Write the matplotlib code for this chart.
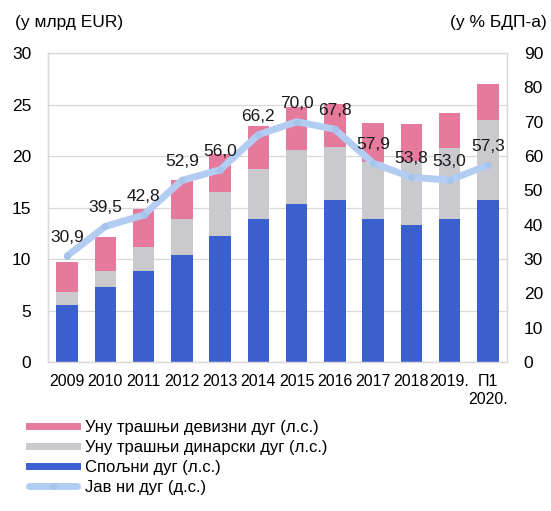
import matplotlib
matplotlib.use('Agg')
import matplotlib.pyplot as plt
import matplotlib.lines as mlines
import numpy as np

plt.rcParams['font.family'] = ['Liberation Sans', 'DejaVu Sans']

years = ['2009', '2010', '2011', '2012', '2013', '2014', '2015', '2016', '2017', '2018', '2019.', 'П1\n2020.']
# stacked levels (bn EUR)
external = [5.55, 7.3, 8.85, 10.4, 12.2, 13.9, 15.3, 15.7, 13.9, 13.3, 13.9, 15.7]
dinar_top = [6.8, 8.85, 11.2, 13.9, 16.5, 18.7, 20.6, 20.9, 19.4, 19.5, 20.8, 23.5]
fx_top = [9.7, 12.1, 14.9, 17.7, 20.2, 22.9, 24.8, 25.1, 23.2, 23.1, 24.2, 27.0]
public_debt = [30.9, 39.5, 42.8, 52.9, 56.0, 66.2, 70.0, 67.8, 57.9, 53.8, 53.0, 57.3]

dinar = np.array(dinar_top) - np.array(external)
fx = np.array(fx_top) - np.array(dinar_top)

c_pink = '#e57a9c'
c_gray = '#cacace'
c_blue = '#3c5fd0'
c_line = '#b3cdf2'

fig = plt.figure(figsize=(5.51, 5.11), dpi=100)
ax = fig.add_axes([0.0871, 0.2916, 0.8330, 0.6046])
ax2 = ax.twinx()

x = np.arange(len(years))
w = 0.56
ax.bar(x, external, w, color=c_blue, label='Спољни дуг (л.с.)', zorder=2)
ax.bar(x, dinar, w, bottom=external, color=c_gray, label='Уну трашњи динарски дуг (л.с.)', zorder=2)
ax.bar(x, fx, w, bottom=dinar_top, color=c_pink, label='Уну трашњи девизни дуг (л.с.)', zorder=2)

ax2.plot(x, public_debt, color=c_line, lw=5, marker='o', ms=4, mfc='#a6c3ec', mec='#a6c3ec',
         solid_joinstyle='round', solid_capstyle='round', label='Јав ни дуг (д.с.)')
for xi, v in zip(x, public_debt):
    ax2.annotate(f'{v:.1f}'.replace('.', ','), (xi, v), xytext=(0, 8), textcoords='offset points',
                 ha='center', va='bottom', fontsize=12.5, color='#1a1a1a')

ax.set_xlim(-0.5, len(years) - 0.5)
ax.set_ylim(0, 30)
ax2.set_ylim(0, 90)
ax.set_yticks(range(0, 31, 5))
ax2.set_yticks(range(0, 91, 10))
ax.set_xticks(x)
ax.set_xticklabels(years, fontsize=11.5)
ax.tick_params(axis='x', length=0, pad=9)
ax.tick_params(axis='y', length=0, pad=12, labelsize=12.5)
ax2.tick_params(axis='y', length=0, pad=12, labelsize=12.5)
ax.grid(axis='y', color='#d9d9d9', lw=0.9, zorder=0)
ax.set_axisbelow(True)
for a in (ax, ax2):
    for s in a.spines.values():
        s.set_color('#d9d9d9')
        s.set_linewidth(0.9)

fig.text(0.027, 0.955, '(у млрд EUR)', fontsize=12.5, va='center', ha='left')
fig.text(0.993, 0.955, '(у % БДП-а)', fontsize=12.5, va='center', ha='right')

h1, l1 = ax.get_legend_handles_labels()
h2, l2 = ax2.get_legend_handles_labels()
handles = [mlines.Line2D([], [], color=c_pink, lw=5),
           mlines.Line2D([], [], color=c_gray, lw=5),
           mlines.Line2D([], [], color=c_blue, lw=5),
           h2[0]]
labels = [l1[2], l1[1], l1[0], l2[0]]
fig.legend(handles, labels, loc='upper left', bbox_to_anchor=(0.037, 0.195), frameon=False,
           fontsize=12, handlelength=2.9, handletextpad=0.5, labelspacing=0.3, borderpad=0)

fig.savefig('out.png', dpi=100)
